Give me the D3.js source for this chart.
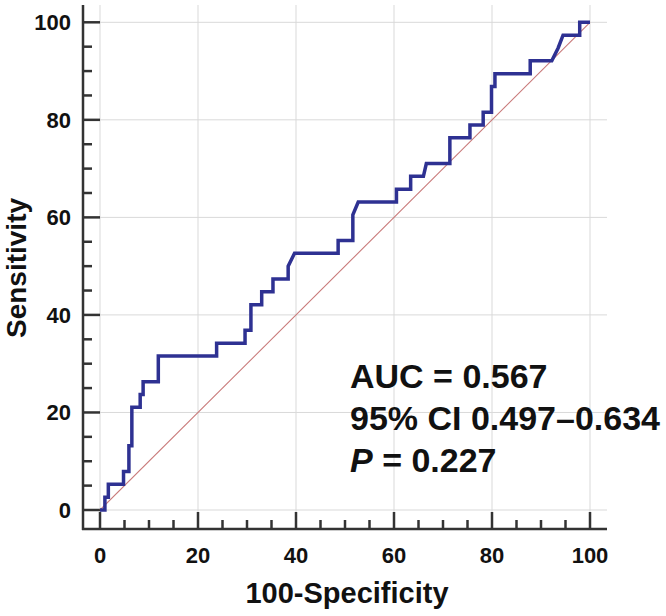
<!DOCTYPE html>
<html>
<head>
  <style>
    body {
        margin: 0;
        background: #fff;
        font-family: Arial, "Liberation Sans", sans-serif;
    }
    .tick-label {
        font-size: 22px;
        font-weight: bold;
        fill: #111;
    }
    .axis-title {
        font-size: 29px;
        font-weight: bold;
        fill: #111;
    }
    .stats {
        font-size: 34px;
        font-weight: bold;
        fill: #111;
    }
  </style>
</head>
<body>
<script src="https://d3js.org/d3.v7.min.js"></script>
<svg id="chart" width="666" height="616"></svg>
<script>
    // ROC curve vertices (100-Specificity, Sensitivity)
    const fpr = [0, 1.0, 1.0, 1.7, 1.7, 4.8, 4.8, 5.9, 5.9, 6.5, 6.5, 8.2, 8.2, 8.8, 8.8,
      11.9, 11.9, 23.8, 23.8, 29.6, 29.6, 30.8, 30.8, 33.0, 33.0, 35.3, 35.3, 38.4, 38.4,
      39.7, 48.6, 48.6, 51.6, 51.6, 52.7, 60.5, 60.5, 63.4, 63.4, 66.0, 66.6, 71.4, 71.4,
      75.5, 75.5, 78.2, 78.2, 79.9, 79.9, 80.6, 80.6, 87.8, 87.8, 92.2, 93.5, 94.5, 97.9,
      97.9, 100];
    const tpr = [0, 0, 2.63, 2.63, 5.26, 5.26, 7.89, 7.89, 13.16, 13.16, 21.05, 21.05, 23.68, 23.68, 26.32,
      26.32, 31.58, 31.58, 34.21, 34.21, 36.84, 36.84, 42.11, 42.11, 44.74, 44.74, 47.37, 47.37, 50.0,
      52.63, 52.63, 55.26, 55.26, 60.53, 63.16, 63.16, 65.79, 65.79, 68.42, 68.42, 71.05, 71.05, 76.32,
      76.32, 78.95, 78.95, 81.58, 81.58, 86.84, 86.84, 89.47, 89.47, 92.11, 92.11, 94.74, 97.37, 97.37,
      100, 100];

    const majorTicks = [0, 20, 40, 60, 80, 100];
    const minorTicks = d3.range(0, 101, 5).filter(d => d % 20 !== 0);
    const statsLines = ["AUC = 0.567", "95% CI 0.497\u20130.634", "= 0.227"];

    const svg = d3.select("#chart");

    // plot frame (axes sit a little outside the 0..100 range)
    const frame = { left: 83, right: 607, top: 5, bottom: 529 };

    const x = d3.scaleLinear().domain([0, 100]).range([100, 590]);
    const y = d3.scaleLinear().domain([0, 100]).range([510, 22.3]);

    // Gridlines
    const grid = svg.append("g");
    grid.selectAll(".vgrid")
      .data(majorTicks)
      .join("line")
      .attr("x1", d => x(d)).attr("x2", d => x(d))
      .attr("y1", frame.top).attr("y2", frame.bottom)
      .attr("stroke", "#d9d9d9").attr("stroke-width", 1);
    grid.selectAll(".hgrid")
      .data(majorTicks)
      .join("line")
      .attr("x1", frame.left).attr("x2", frame.right)
      .attr("y1", d => y(d)).attr("y2", d => y(d))
      .attr("stroke", "#d9d9d9").attr("stroke-width", 1);

    // Axes lines
    const axisColor = "#333";
    svg.append("line")
      .attr("x1", frame.left).attr("x2", frame.left)
      .attr("y1", frame.top).attr("y2", frame.bottom + 1)
      .attr("stroke", axisColor).attr("stroke-width", 2.5);
    svg.append("line")
      .attr("x1", frame.left - 1).attr("x2", frame.right)
      .attr("y1", frame.bottom).attr("y2", frame.bottom)
      .attr("stroke", axisColor).attr("stroke-width", 2.5);

    // Y ticks (pointing inward)
    svg.selectAll(".ymajor")
      .data(majorTicks)
      .join("line")
      .attr("x1", frame.left).attr("x2", frame.left + 17)
      .attr("y1", d => y(d)).attr("y2", d => y(d))
      .attr("stroke", axisColor).attr("stroke-width", 2.5);
    svg.selectAll(".yminor")
      .data(minorTicks)
      .join("line")
      .attr("x1", frame.left).attr("x2", frame.left + 9)
      .attr("y1", d => y(d)).attr("y2", d => y(d))
      .attr("stroke", axisColor).attr("stroke-width", 2.5);

    // X ticks (pointing inward)
    svg.selectAll(".xmajor")
      .data(majorTicks)
      .join("line")
      .attr("x1", d => x(d)).attr("x2", d => x(d))
      .attr("y1", frame.bottom).attr("y2", frame.bottom - 17)
      .attr("stroke", axisColor).attr("stroke-width", 2.5);
    svg.selectAll(".xminor")
      .data(minorTicks)
      .join("line")
      .attr("x1", d => x(d)).attr("x2", d => x(d))
      .attr("y1", frame.bottom).attr("y2", frame.bottom - 9)
      .attr("stroke", axisColor).attr("stroke-width", 2.5);

    // Tick labels
    svg.selectAll(".ylab")
      .data(majorTicks)
      .join("text")
      .attr("class", "tick-label")
      .attr("x", 71)
      .attr("y", d => y(d))
      .attr("dy", "0.36em")
      .attr("text-anchor", "end")
      .text(d => d);
    svg.selectAll(".xlab")
      .data(majorTicks)
      .join("text")
      .attr("class", "tick-label")
      .attr("x", d => x(d))
      .attr("y", 563)
      .attr("text-anchor", "middle")
      .text(d => d);

    // Axis titles
    svg.append("text")
      .attr("class", "axis-title")
      .attr("x", 347)
      .attr("y", 603)
      .attr("text-anchor", "middle")
      .text("100-Specificity");
    svg.append("text")
      .attr("class", "axis-title")
      .style("font-size", "28px")
      .attr("transform", "translate(26, 268) rotate(-90)")
      .attr("text-anchor", "middle")
      .text("Sensitivity");

    // Reference diagonal
    svg.append("line")
      .attr("x1", x(0)).attr("y1", y(0))
      .attr("x2", x(100)).attr("y2", y(100))
      .attr("stroke", "#c97a7a").attr("stroke-width", 1.1);

    // ROC curve
    const points = fpr.map((d, i) => [d, tpr[i]]);
    const line = d3.line()
      .x(d => x(d[0]))
      .y(d => y(d[1]));
    svg.append("path")
      .datum(points)
      .attr("d", line)
      .attr("fill", "none")
      .attr("stroke", "#2e3192")
      .attr("stroke-width", 3.5)
      .attr("stroke-linejoin", "miter");

    // Stats text
    const stats = svg.append("g");
    stats.append("text").attr("class", "stats")
      .attr("x", 350).attr("y", 388).text(statsLines[0]);
    stats.append("text").attr("class", "stats")
      .attr("x", 350).attr("y", 430).text(statsLines[1]);
    const pLine = stats.append("text").attr("class", "stats")
      .attr("x", 350).attr("y", 472);
    pLine.append("tspan").style("font-style", "italic").text("P");
    pLine.append("tspan").text(" " + statsLines[2]);
</script>
</body>
</html>
